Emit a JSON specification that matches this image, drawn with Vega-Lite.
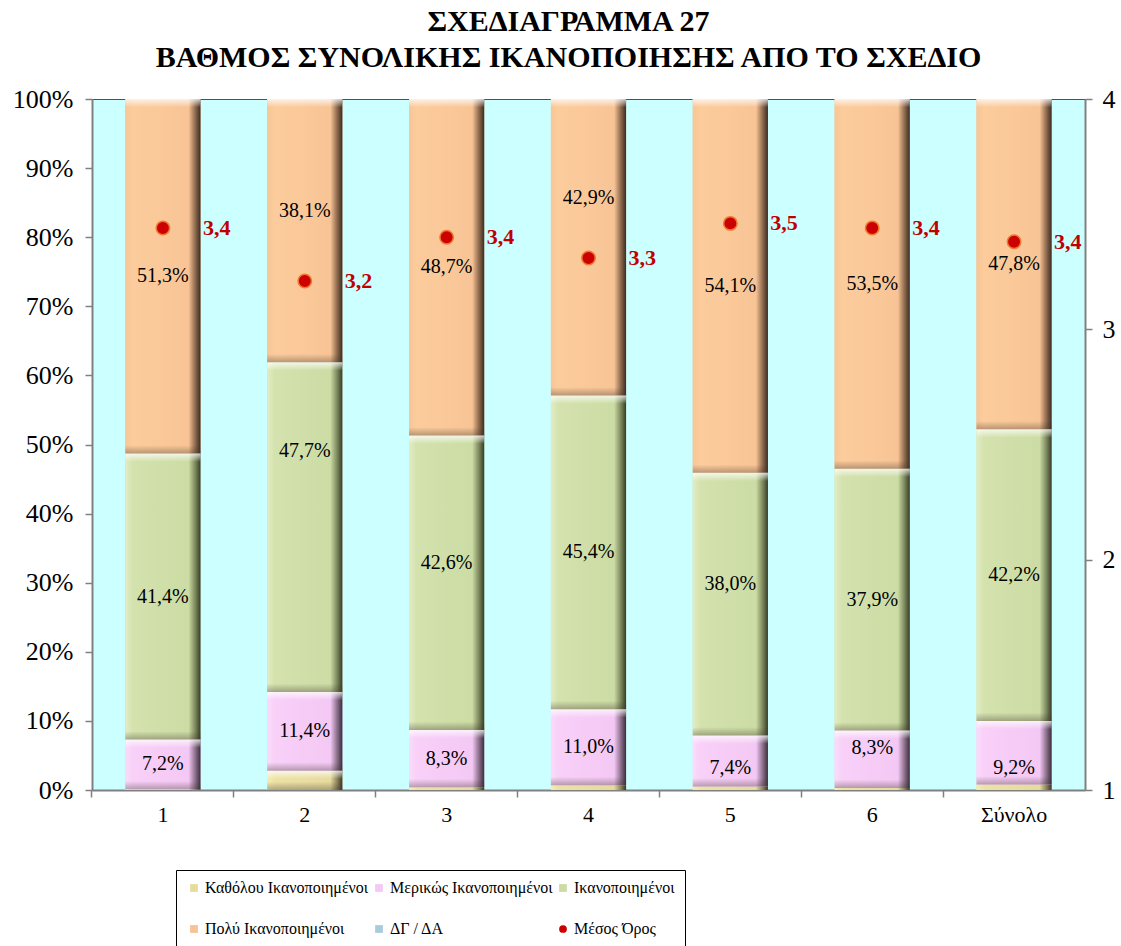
{
  "$schema": "https://vega.github.io/schema/vega-lite/v6.json",
  "width": 993,
  "height": 691,
  "autosize": "none",
  "padding": {"left": 92, "top": 99, "right": 36, "bottom": 156},
  "background": "white",
  "config": {
    "font": "Liberation Serif",
    "view": {"fill": "#CCFFFF", "stroke": "#505050", "strokeWidth": 1},
    "locale": {"number": {"decimal": ",", "thousands": ".", "grouping": [3], "currency": ["", " €"]}}
  },
  "title": {
    "text": ["ΣΧΕΔΙΑΓΡΑΜΜΑ 27", "ΒΑΘΜΟΣ ΣΥΝΟΛΙΚΗΣ ΙΚΑΝΟΠΟΙΗΣΗΣ ΑΠΟ ΤΟ ΣΧΕΔΙΟ"],
    "font": "Liberation Serif",
    "fontSize": 30,
    "fontWeight": "bold",
    "lineHeight": 36,
    "anchor": "middle",
    "dx": -20,
    "offset": 13,
    "color": "black"
  },
  "datasets": {
    "shares": [
      {"cat": "1", "series": "Καθόλου Ικανοποιημένοι", "order": 1, "pct": 0.001},
      {"cat": "1", "series": "Μερικώς Ικανοποιημένοι", "order": 2, "pct": 0.072},
      {"cat": "1", "series": "Ικανοποιημένοι", "order": 3, "pct": 0.414},
      {"cat": "1", "series": "Πολύ Ικανοποιημένοι", "order": 4, "pct": 0.513},
      {"cat": "1", "series": "ΔΓ / ΔΑ", "order": 5, "pct": 0},
      {"cat": "2", "series": "Καθόλου Ικανοποιημένοι", "order": 1, "pct": 0.028},
      {"cat": "2", "series": "Μερικώς Ικανοποιημένοι", "order": 2, "pct": 0.114},
      {"cat": "2", "series": "Ικανοποιημένοι", "order": 3, "pct": 0.477},
      {"cat": "2", "series": "Πολύ Ικανοποιημένοι", "order": 4, "pct": 0.381},
      {"cat": "2", "series": "ΔΓ / ΔΑ", "order": 5, "pct": 0},
      {"cat": "3", "series": "Καθόλου Ικανοποιημένοι", "order": 1, "pct": 0.004},
      {"cat": "3", "series": "Μερικώς Ικανοποιημένοι", "order": 2, "pct": 0.083},
      {"cat": "3", "series": "Ικανοποιημένοι", "order": 3, "pct": 0.426},
      {"cat": "3", "series": "Πολύ Ικανοποιημένοι", "order": 4, "pct": 0.487},
      {"cat": "3", "series": "ΔΓ / ΔΑ", "order": 5, "pct": 0},
      {"cat": "4", "series": "Καθόλου Ικανοποιημένοι", "order": 1, "pct": 0.007},
      {"cat": "4", "series": "Μερικώς Ικανοποιημένοι", "order": 2, "pct": 0.110},
      {"cat": "4", "series": "Ικανοποιημένοι", "order": 3, "pct": 0.454},
      {"cat": "4", "series": "Πολύ Ικανοποιημένοι", "order": 4, "pct": 0.429},
      {"cat": "4", "series": "ΔΓ / ΔΑ", "order": 5, "pct": 0},
      {"cat": "5", "series": "Καθόλου Ικανοποιημένοι", "order": 1, "pct": 0.005},
      {"cat": "5", "series": "Μερικώς Ικανοποιημένοι", "order": 2, "pct": 0.074},
      {"cat": "5", "series": "Ικανοποιημένοι", "order": 3, "pct": 0.380},
      {"cat": "5", "series": "Πολύ Ικανοποιημένοι", "order": 4, "pct": 0.541},
      {"cat": "5", "series": "ΔΓ / ΔΑ", "order": 5, "pct": 0},
      {"cat": "6", "series": "Καθόλου Ικανοποιημένοι", "order": 1, "pct": 0.003},
      {"cat": "6", "series": "Μερικώς Ικανοποιημένοι", "order": 2, "pct": 0.083},
      {"cat": "6", "series": "Ικανοποιημένοι", "order": 3, "pct": 0.379},
      {"cat": "6", "series": "Πολύ Ικανοποιημένοι", "order": 4, "pct": 0.535},
      {"cat": "6", "series": "ΔΓ / ΔΑ", "order": 5, "pct": 0},
      {"cat": "Σύνολο", "series": "Καθόλου Ικανοποιημένοι", "order": 1, "pct": 0.008},
      {"cat": "Σύνολο", "series": "Μερικώς Ικανοποιημένοι", "order": 2, "pct": 0.092},
      {"cat": "Σύνολο", "series": "Ικανοποιημένοι", "order": 3, "pct": 0.422},
      {"cat": "Σύνολο", "series": "Πολύ Ικανοποιημένοι", "order": 4, "pct": 0.478},
      {"cat": "Σύνολο", "series": "ΔΓ / ΔΑ", "order": 5, "pct": 0}
    ],
    "means": [
      {"cat": "1", "mean": 3.44},
      {"cat": "2", "mean": 3.21},
      {"cat": "3", "mean": 3.40},
      {"cat": "4", "mean": 3.31},
      {"cat": "5", "mean": 3.46},
      {"cat": "6", "mean": 3.44},
      {"cat": "Σύνολο", "mean": 3.38}
    ]
  },
  "encoding": {
    "x": {
      "field": "cat",
      "type": "nominal",
      "sort": null,
      "scale": {"domain": ["1", "2", "3", "4", "5", "6", "Σύνολο"], "paddingInner": 0.47, "paddingOuter": 0.235},
      "axis": {
        "title": null,
        "labelAngle": 0,
        "labelFont": "Liberation Serif",
        "labelFontSize": 22,
        "labelColor": "black",
        "labelPadding": 7,
        "bandPosition": -0.4434,
        "domainColor": "#808080",
        "domainWidth": 2,
        "tickColor": "#808080",
        "tickSize": 7,
        "tickWidth": 1.5
      }
    }
  },
  "layer": [
    {
      "data": {"name": "shares"},
      "transform": [
        {"stack": "pct", "groupby": ["cat"], "sort": [{"field": "order", "order": "ascending"}], "as": ["y0", "y1"]},
        {"calculate": "(datum.y0 + datum.y1) / 2", "as": "mid"},
        {"calculate": "datum.y1 - 0.012", "as": "topband"},
        {"calculate": "datum.y0 + 0.012", "as": "botband"},
        {"calculate": "datum.cat + '|' + datum.series", "as": "key"}
      ],
      "layer": [
        {
          "mark": {"type": "bar"},
          "encoding": {
            "y": {
              "field": "y0",
              "type": "quantitative",
              "scale": {"domain": [0, 1], "nice": false},
              "axis": {
                "title": null,
                "format": ".0%",
                "values": [0, 0.1, 0.2, 0.3, 0.4, 0.5, 0.6, 0.7, 0.8, 0.9, 1],
                "grid": false,
                "labelFont": "Liberation Serif",
                "labelFontSize": 26,
                "labelColor": "black",
                "labelPadding": 12,
                "domainColor": "#808080",
                "domainWidth": 2,
                "tickColor": "#808080",
                "tickSize": 7,
                "tickWidth": 1.5
              }
            },
            "y2": {"field": "y1"},
            "color": {
              "field": "series",
              "type": "nominal",
              "scale": {
                "domain": ["Καθόλου Ικανοποιημένοι", "Μερικώς Ικανοποιημένοι", "Ικανοποιημένοι", "Πολύ Ικανοποιημένοι", "ΔΓ / ΔΑ", "Μέσος Όρος"],
                "range": ["#E8DC9C", "#F4C8F4", "#CCDCA4", "#F6C296", "#A8CCDC", "#CC0000"]
              },
              "legend": {
                "title": null,
                "orient": "none",
                "legendX": 84,
                "legendY": 771,
                "direction": "horizontal",
                "columns": 3,
                "gridAlign": "each",
                "symbolType": "square",
                "symbolSize": 60,
                "symbolStrokeWidth": 0,
                "labelFont": "Liberation Serif",
                "labelFontSize": 16,
                "labelColor": "black",
                "labelLimit": 400,
                "labelOffset": 3,
                "rowPadding": 25,
                "columnPadding": 2,
                "padding": 10,
                "strokeColor": "black",
                "fillColor": "white",
                "encode": {
                  "symbols": {"update": {"shape": {"signal": "datum.value === 'Μέσος Όρος' ? 'circle' : 'square'"}}}
                }
              }
            }
          }
        },
        {
          "transform": [{"filter": "datum.series === 'Καθόλου Ικανοποιημένοι'"}],
          "mark": {"type": "bar", "fill": {"gradient": "linear", "x1": 0, "x2": 1, "y1": 0, "y2": 0, "stops": [{"offset": 0, "color": "#F4ECB8"}, {"offset": 0.1, "color": "#EDE2A6"}, {"offset": 0.84, "color": "#E6DA9C"}, {"offset": 0.93, "color": "#8C845C"}, {"offset": 1, "color": "#3A3626"}]}},
          "encoding": {"y": {"field": "y0", "type": "quantitative"}, "y2": {"field": "y1"}}
        },
        {
          "transform": [{"filter": "datum.series === 'Μερικώς Ικανοποιημένοι'"}],
          "mark": {"type": "bar", "fill": {"gradient": "linear", "x1": 0, "x2": 1, "y1": 0, "y2": 0, "stops": [{"offset": 0, "color": "#FADCFA"}, {"offset": 0.1, "color": "#F8D0F8"}, {"offset": 0.84, "color": "#F4C8F4"}, {"offset": 0.93, "color": "#8C708C"}, {"offset": 1, "color": "#3A2E3A"}]}},
          "encoding": {"y": {"field": "y0", "type": "quantitative"}, "y2": {"field": "y1"}}
        },
        {
          "transform": [{"filter": "datum.series === 'Ικανοποιημένοι'"}],
          "mark": {"type": "bar", "fill": {"gradient": "linear", "x1": 0, "x2": 1, "y1": 0, "y2": 0, "stops": [{"offset": 0, "color": "#E2ECC4"}, {"offset": 0.1, "color": "#D4E2AE"}, {"offset": 0.84, "color": "#CCDCA4"}, {"offset": 0.93, "color": "#7C885C"}, {"offset": 1, "color": "#363C28"}]}},
          "encoding": {"y": {"field": "y0", "type": "quantitative"}, "y2": {"field": "y1"}}
        },
        {
          "transform": [{"filter": "datum.series === 'Πολύ Ικανοποιημένοι'"}],
          "mark": {"type": "bar", "fill": {"gradient": "linear", "x1": 0, "x2": 1, "y1": 0, "y2": 0, "stops": [{"offset": 0, "color": "#F6C698"}, {"offset": 0.1, "color": "#FCCC9C"}, {"offset": 0.84, "color": "#F8C496"}, {"offset": 0.93, "color": "#8E6A4E"}, {"offset": 1, "color": "#3C2C22"}]}},
          "encoding": {"y": {"field": "y0", "type": "quantitative"}, "y2": {"field": "y1"}}
        },
        {
          "transform": [{"filter": "datum.order <= 4 && datum.pct >= 0.02"}],
          "mark": {"type": "bar", "fill": {"gradient": "linear", "x1": 0, "x2": 0, "y1": 0, "y2": 1, "stops": [{"offset": 0, "color": "rgba(255,255,255,0.75)"}, {"offset": 1, "color": "rgba(255,255,255,0)"}]}},
          "encoding": {"y": {"field": "topband", "type": "quantitative"}, "y2": {"field": "y1"}}
        },
        {
          "transform": [{"filter": "datum.order <= 4 && datum.pct >= 0.02"}],
          "mark": {"type": "bar", "fill": {"gradient": "linear", "x1": 0, "x2": 0, "y1": 0, "y2": 1, "stops": [{"offset": 0, "color": "rgba(60,50,40,0)"}, {"offset": 1, "color": "rgba(60,50,40,0.35)"}]}},
          "encoding": {"y": {"field": "y0", "type": "quantitative"}, "y2": {"field": "botband"}}
        },
        {
          "transform": [{"filter": "indexof(['Μερικώς Ικανοποιημένοι','Ικανοποιημένοι','Πολύ Ικανοποιημένοι'], datum.series) >= 0 && indexof(['2|Πολύ Ικανοποιημένοι','3|Ικανοποιημένοι','5|Ικανοποιημένοι','4|Πολύ Ικανοποιημένοι','2|Ικανοποιημένοι','6|Μερικώς Ικανοποιημένοι','5|Μερικώς Ικανοποιημένοι','Σύνολο|Μερικώς Ικανοποιημένοι'], datum.key) < 0"}],
          "mark": {"type": "text", "font": "Liberation Serif", "fontSize": 20, "color": "black"},
          "encoding": {"y": {"field": "mid", "type": "quantitative"}, "text": {"field": "pct", "type": "quantitative", "format": ".1%"}}
        },
        {
          "transform": [{"filter": "indexof(['2|Πολύ Ικανοποιημένοι','3|Ικανοποιημένοι','5|Ικανοποιημένοι'], datum.key) >= 0"}],
          "mark": {"type": "text", "font": "Liberation Serif", "fontSize": 20, "color": "black", "dy": -20},
          "encoding": {"y": {"field": "mid", "type": "quantitative"}, "text": {"field": "pct", "type": "quantitative", "format": ".1%"}}
        },
        {
          "transform": [{"filter": "datum.key === '4|Πολύ Ικανοποιημένοι'"}],
          "mark": {"type": "text", "font": "Liberation Serif", "fontSize": 20, "color": "black", "dy": -49},
          "encoding": {"y": {"field": "mid", "type": "quantitative"}, "text": {"field": "pct", "type": "quantitative", "format": ".1%"}}
        },
        {
          "transform": [{"filter": "datum.key === '2|Ικανοποιημένοι'"}],
          "mark": {"type": "text", "font": "Liberation Serif", "fontSize": 20, "color": "black", "dy": -76},
          "encoding": {"y": {"field": "mid", "type": "quantitative"}, "text": {"field": "pct", "type": "quantitative", "format": ".1%"}}
        },
        {
          "transform": [{"filter": "datum.key === '6|Μερικώς Ικανοποιημένοι'"}],
          "mark": {"type": "text", "font": "Liberation Serif", "fontSize": 20, "color": "black", "dy": -11},
          "encoding": {"y": {"field": "mid", "type": "quantitative"}, "text": {"field": "pct", "type": "quantitative", "format": ".1%"}}
        },
        {
          "transform": [{"filter": "datum.key === '5|Μερικώς Ικανοποιημένοι'"}],
          "mark": {"type": "text", "font": "Liberation Serif", "fontSize": 20, "color": "black", "dy": 7},
          "encoding": {"y": {"field": "mid", "type": "quantitative"}, "text": {"field": "pct", "type": "quantitative", "format": ".1%"}}
        },
        {
          "transform": [{"filter": "datum.key === 'Σύνολο|Μερικώς Ικανοποιημένοι'"}],
          "mark": {"type": "text", "font": "Liberation Serif", "fontSize": 20, "color": "black", "dy": 15},
          "encoding": {"y": {"field": "mid", "type": "quantitative"}, "text": {"field": "pct", "type": "quantitative", "format": ".1%"}}
        }
      ]
    },
    {
      "data": {"name": "means"},
      "layer": [
        {
          "mark": {"type": "point", "shape": "circle", "filled": true, "size": 180, "fill": "#CC0000", "stroke": "#F07830", "strokeWidth": 1.5, "opacity": 1},
          "encoding": {
            "y": {
              "field": "mean",
              "type": "quantitative",
              "scale": {"domain": [1, 4], "nice": false},
              "axis": {
                "orient": "right",
                "title": null,
                "values": [1, 2, 3, 4],
                "format": "d",
                "grid": false,
                "labelFont": "Liberation Serif",
                "labelFontSize": 26,
                "labelColor": "black",
                "labelPadding": 10,
                "domainColor": "#808080",
                "domainWidth": 2,
                "tickColor": "#808080",
                "tickSize": 7,
                "tickWidth": 1.5
              }
            }
          }
        },
        {
          "mark": {"type": "text", "align": "left", "dx": 40, "font": "Liberation Serif", "fontSize": 22, "fontWeight": "bold", "color": "#C00000"},
          "encoding": {
            "y": {"field": "mean", "type": "quantitative"},
            "text": {"field": "mean", "type": "quantitative", "format": ".1f"}
          }
        }
      ]
    }
  ],
  "resolve": {"scale": {"y": "independent"}}
}
